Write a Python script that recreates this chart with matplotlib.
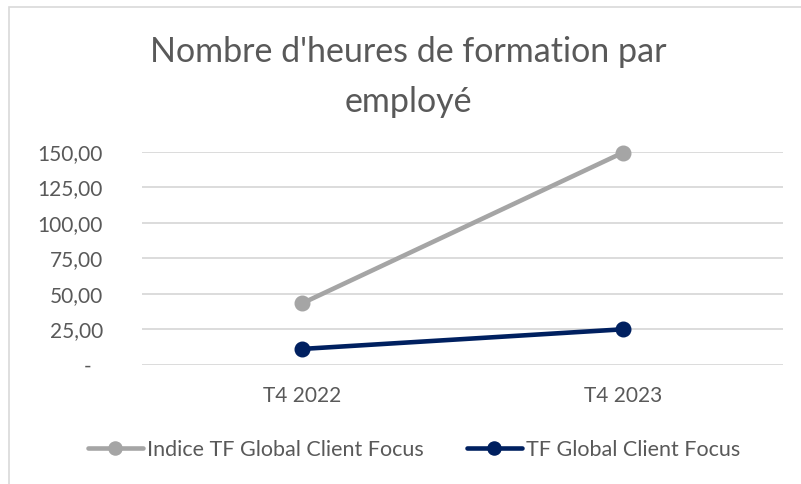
import matplotlib.pyplot as plt
import matplotlib.transforms as mtransforms
from matplotlib.patches import Rectangle

# Data
periods = ['T4 2022', 'T4 2023']
indice_tf = [43.4, 149.3]
tf_global = [11.3, 25.1]
y_ticks = [0, 25, 50, 75, 100, 125, 150]
y_labels = ['-', '25,00', '50,00', '75,00', '100,00', '125,00', '150,00']

text_color = '#595959'
plt.rcParams['font.family'] = ['Lato', 'DejaVu Sans']

fig = plt.figure(figsize=(8.01, 4.84), dpi=100)
ax = fig.add_axes([142 / 801, 1 - 365 / 484, 641 / 801, (365 - 151.7) / 484])

x = range(len(periods))
ax.plot(x, indice_tf, color='#A5A5A5', lw=3.3, marker='o', ms=10.5,
        solid_capstyle='round', label='Indice TF Global Client Focus', clip_on=False, zorder=3)
ax.plot(x, tf_global, color='#002060', lw=3.3, marker='o', ms=10.5,
        solid_capstyle='round', label='TF Global Client Focus', clip_on=False, zorder=3)

ax.set_xlim(-0.5, 1.5)
ax.set_ylim(0, 150)
ax.set_xticks(list(x))
ax.set_xticklabels(periods, fontsize=15, color=text_color)
ax.set_yticks(y_ticks)
ax.set_yticklabels(y_labels, fontsize=15, color=text_color)
ax.tick_params(axis='both', length=0)
ax.tick_params(axis='y', pad=28)
ax.tick_params(axis='x', pad=15)
ax.yaxis.grid(True, color='#D9D9D9', lw=1.3)
ax.set_axisbelow(True)
for s in ax.spines.values():
    s.set_visible(False)

# zero label sits further left in Excel accounting format
zero_lbl = ax.get_yticklabels()[0]
zero_lbl.set_transform(zero_lbl.get_transform() +
                       mtransforms.ScaledTranslation(-12 / 100, 0, fig.dpi_scale_trans))

fig.text(408 / 801, 1 - 62 / 484, "Nombre d'heures de formation par", ha='center', va='baseline',
         fontsize=24.5, color=text_color)
fig.text(408 / 801, 1 - 112 / 484, 'employé', ha='center', va='baseline',
         fontsize=24.5, color=text_color)

fig.legend(loc='center', bbox_to_anchor=(414 / 801, 1 - 450 / 484), ncol=2, frameon=False,
           fontsize=15.5, labelcolor=text_color, handlelength=2.55, handletextpad=0.2,
           columnspacing=2.0, markerscale=0.9)

# chart-area border (cropped at right and bottom)
fig.patches.append(Rectangle((8.5 / 801, -0.1), 1.2, 1 - 7.5 / 484 + 0.1,
                             transform=fig.transFigure, fill=False,
                             edgecolor='#D9D9D9', lw=1.2))

fig.savefig('out.png', dpi=100)
